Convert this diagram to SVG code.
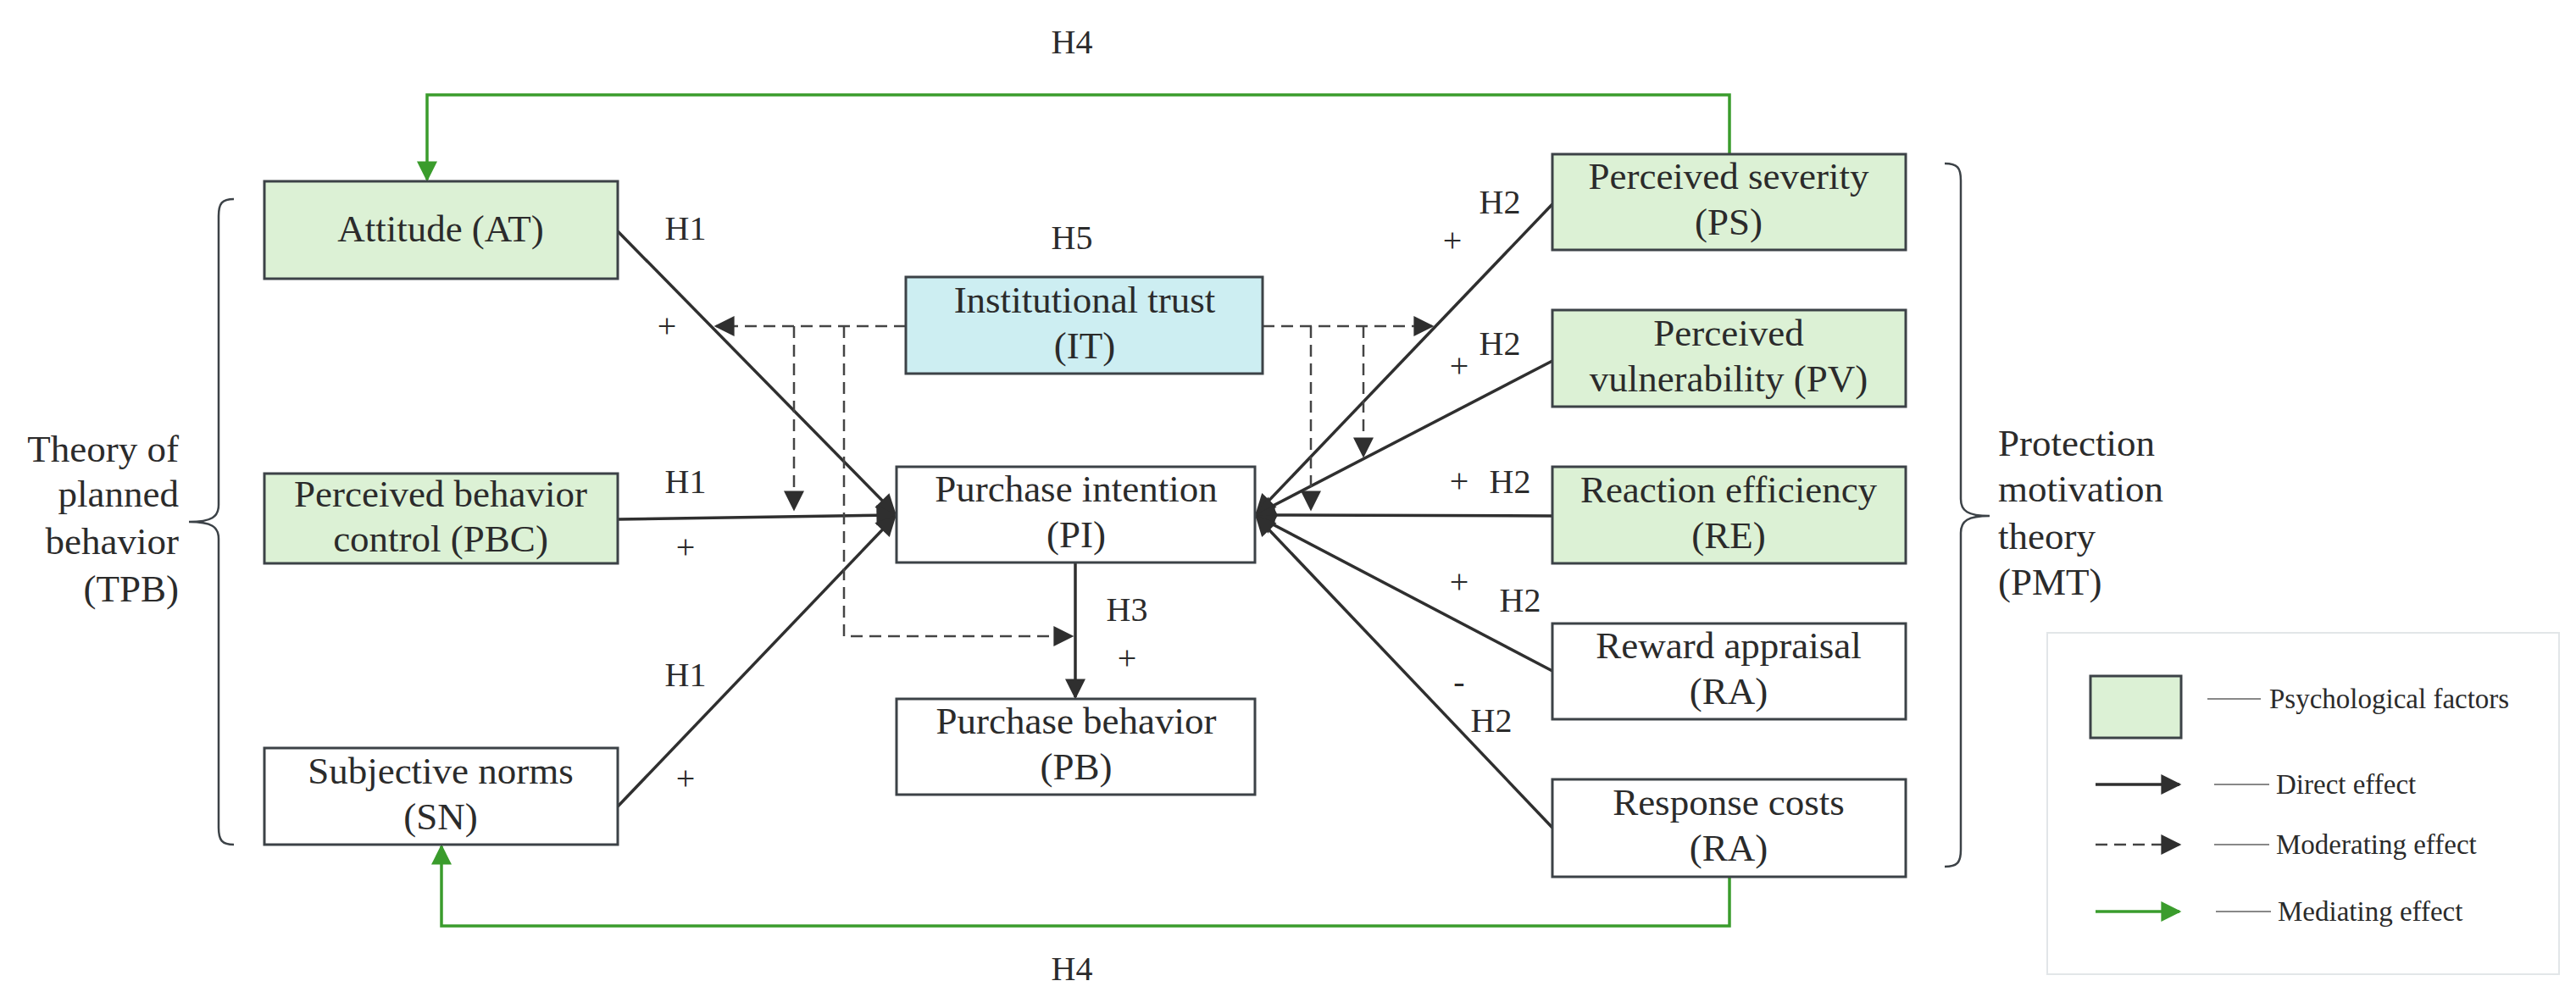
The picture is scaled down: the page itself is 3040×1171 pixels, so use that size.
<svg xmlns="http://www.w3.org/2000/svg" width="3040" height="1171" viewBox="0 0 3040 1171">
<style>
text{font-family:"Liberation Serif","DejaVu Serif",serif;fill:#2b2b2b;font-size:45px}
.c{text-anchor:middle}
.box{stroke:#3c4247;stroke-width:3}
.g{fill:#dcf1d5}.w{fill:#fff}.b{fill:#cdeef2}
.d{stroke:#2f2f2f;stroke-width:3.5;fill:none}
.m{stroke:#444;stroke-width:2.5;fill:none;stroke-dasharray:14 8}
.gr{stroke:#3a9c2c;stroke-width:3.5;fill:none}
.lg{font-size:33px}
.lbl{font-size:40px}
</style>
<defs>
<marker id="ad2" viewBox="0 0 10 10" refX="9" refY="5" markerWidth="30" markerHeight="24" markerUnits="userSpaceOnUse" orient="auto"><path d="M0,0L10,5L0,10z" fill="#2f2f2f"/></marker>
<marker id="ag" viewBox="0 0 10 10" refX="9" refY="5" markerWidth="30" markerHeight="24" markerUnits="userSpaceOnUse" orient="auto"><path d="M0,0L10,5L0,10z" fill="#3a9c2c"/></marker>
</defs>
<rect width="3040" height="1171" fill="#fff"/>
<g id="connectors">
<path class="gr" d="M2041,182V112H504V212" marker-end="url(#ag)"/>
<path class="gr" d="M2041,1035V1093H521V999" marker-end="url(#ag)"/>
<path class="d" d="M729,273L1056,606" marker-end="url(#ad2)"/>
<path class="d" d="M729,613L1056,608" marker-end="url(#ad2)"/>
<path class="d" d="M729,952L1056,610" marker-end="url(#ad2)"/>
<path class="d" d="M1269,664V823" marker-end="url(#ad2)"/>
<path class="d" d="M1832,241L1483,606" marker-end="url(#ad2)"/>
<path class="d" d="M1832,426L1483,607" marker-end="url(#ad2)"/>
<path class="d" d="M1832,609L1483,608" marker-end="url(#ad2)"/>
<path class="d" d="M1832,792L1483,609" marker-end="url(#ad2)"/>
<path class="d" d="M1832,977L1483,610" marker-end="url(#ad2)"/>
<path class="m" d="M1069,385H845" marker-end="url(#ad2)"/>
<path class="m" d="M937,385V601" marker-end="url(#ad2)"/>
<path class="m" d="M996,385V751H1265" marker-end="url(#ad2)"/>
<path class="m" d="M1490,385H1690" marker-end="url(#ad2)"/>
<path class="m" d="M1547,385V601" marker-end="url(#ad2)"/>
<path class="m" d="M1609,385V538" marker-end="url(#ad2)"/>
</g>
<g id="AT"><rect class="box g" x="312" y="214" width="417" height="115"/><text class="c" x="520" y="285">Attitude (AT)</text></g>
<g id="PBC"><rect class="box g" x="312" y="559" width="417" height="106"/><text class="c" x="520" y="598">Perceived behavior</text><text class="c" x="520" y="651">control (PBC)</text></g>
<g id="SN"><rect class="box w" x="312" y="883" width="417" height="114"/><text class="c" x="520" y="925">Subjective norms</text><text class="c" x="520" y="979">(SN)</text></g>
<g id="IT"><rect class="box b" x="1069" y="327" width="421" height="114"/><text class="c" x="1280" y="369">Institutional trust</text><text class="c" x="1280" y="423">(IT)</text></g>
<g id="PI"><rect class="box w" x="1058" y="551" width="423" height="113"/><text class="c" x="1270" y="592">Purchase intention</text><text class="c" x="1270" y="646">(PI)</text></g>
<g id="PB"><rect class="box w" x="1058" y="825" width="423" height="113"/><text class="c" x="1270" y="866">Purchase behavior</text><text class="c" x="1270" y="920">(PB)</text></g>
<g id="PS"><rect class="box g" x="1832" y="182" width="417" height="113"/><text class="c" x="2040" y="223">Perceived severity</text><text class="c" x="2040" y="277">(PS)</text></g>
<g id="PV"><rect class="box g" x="1832" y="366" width="417" height="114"/><text class="c" x="2040" y="408">Perceived</text><text class="c" x="2040" y="462">vulnerability (PV)</text></g>
<g id="RE"><rect class="box g" x="1832" y="551" width="417" height="114"/><text class="c" x="2040" y="593">Reaction efficiency</text><text class="c" x="2040" y="647">(RE)</text></g>
<g id="RA"><rect class="box w" x="1832" y="736" width="417" height="113"/><text class="c" x="2040" y="777">Reward appraisal</text><text class="c" x="2040" y="831">(RA)</text></g>
<g id="RC"><rect class="box w" x="1832" y="920" width="417" height="115"/><text class="c" x="2040" y="962">Response costs</text><text class="c" x="2040" y="1016">(RA)</text></g>
<g id="TPB">
<path d="M276,235C262,235 258,240 258,255V596C258,610 250,616 223,616C250,616 258,622 258,636V977C258,992 262,997 276,997" fill="none" stroke="#3c4247" stroke-width="2.5"/>
<text x="211" y="545" text-anchor="end">Theory of</text><text x="211" y="598" text-anchor="end">planned</text><text x="211" y="654" text-anchor="end">behavior</text><text x="211" y="710" text-anchor="end">(TPB)</text>
</g>
<g id="PMT">
<path d="M2295,193C2310,193 2314,198 2314,213V589C2314,603 2322,609 2348,609C2322,609 2314,615 2314,629V1003C2314,1018 2310,1023 2295,1023" fill="none" stroke="#3c4247" stroke-width="2.5"/>
<text x="2358" y="538">Protection</text><text x="2358" y="592">motivation</text><text x="2358" y="648">theory</text><text x="2358" y="702">(PMT)</text>
</g>
<g id="labels">
<text class="c lbl" x="1265" y="63">H4</text><text class="c lbl" x="1265" y="1157">H4</text><text class="c lbl" x="1265" y="294">H5</text>
<text class="c lbl" x="809" y="283">H1</text><text class="c lbl" x="809" y="582">H1</text><text class="c lbl" x="809" y="810">H1</text>
<text class="c lbl" x="787" y="398">+</text><text class="c lbl" x="809" y="659">+</text><text class="c lbl" x="809" y="932">+</text>
<text class="c lbl" x="1330" y="733">H3</text><text class="c lbl" x="1330" y="790">+</text>
<text class="c lbl" x="1770" y="252">H2</text><text class="c lbl" x="1714" y="297">+</text>
<text class="c lbl" x="1770" y="419">H2</text><text class="c lbl" x="1722" y="445">+</text>
<text class="c lbl" x="1722" y="581">+</text><text class="c lbl" x="1782" y="582">H2</text>
<text class="c lbl" x="1722" y="700">+</text><text class="c lbl" x="1794" y="722">H2</text>
<text class="c lbl" x="1722" y="818">-</text><text class="c lbl" x="1760" y="864">H2</text>
</g>
<g id="legend">
<rect x="2416" y="747" width="604" height="403" fill="#fff" stroke="#e2e6e8" stroke-width="2"/>
<rect class="box g" x="2467" y="798" width="107" height="73"/>
<path d="M2605,825H2668M2613,926H2678M2613,997H2678M2615,1076H2680" stroke="#888" stroke-width="2"/>
<path class="d" d="M2473,926H2572" marker-end="url(#ad2)"/>
<path class="m" d="M2473,997H2572" marker-end="url(#ad2)"/>
<path class="gr" d="M2473,1076H2572" marker-end="url(#ag)"/>
<text class="lg" x="2678" y="836">Psychological factors</text>
<text class="lg" x="2686" y="937">Direct effect</text>
<text class="lg" x="2686" y="1008">Moderating effect</text>
<text class="lg" x="2688" y="1087">Mediating effect</text>
</g>
</svg>
